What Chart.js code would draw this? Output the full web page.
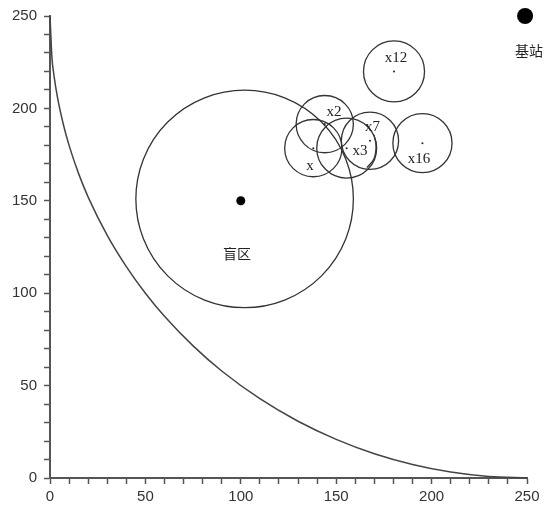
<!DOCTYPE html>
<html>
<head>
<meta charset="utf-8">
<script src="https://cdn.jsdelivr.net/npm/chart.js@4/dist/chart.umd.min.js"></script>
<style>
  html, body { margin: 0; padding: 0; background: #fff; }
  canvas { display: block; }
</style>
</head>
<body>
<canvas id="blindChart" width="544" height="509"></canvas>
<script>
// axis ticks
const majorTicks = [0, 50, 100, 150, 200, 250];

// coverage boundary
const curveX = [0, 1, 2, 4, 7, 10, 15, 20, 30, 40, 50, 60, 75, 90, 110, 130, 150, 170, 190, 210, 230, 250];
const curveY = [250, 227.7, 218.4, 205.5, 191.3, 180, 164.7, 152, 131.3, 114.4, 100, 87.5, 71.5, 57.9, 42.9, 30.7, 20.9, 13.1, 7.3, 3.2, 0.8, 0];

// short arc inside x7
const arcX = [169.8, 170.9, 169.8, 166.1];
const arcY = [185.7, 179.8, 172.8, 167.9];

// small circles (centre + radius, data units)
const nodeNames = ["x", "x2", "x3", "x7", "x12", "x16"];
const nodeX = [138, 144, 155.5, 167.7, 180.3, 195.2];
const nodeY = [178.5, 191.5, 178.5, 182.5, 220, 181.2];
const nodeR = [15, 15, 15.7, 15, 16, 15.5];
const labelX = [136.3, 148.8, 162.5, 169, 181.3, 193.4];
const labelY = [169, 198.2, 177.1, 189.7, 227.3, 172.6];

// blind zone
const blindCenter = [100, 150];
const blindCircle = [102, 151];
const blindR = 57;
const blindLabel = ["盲区", 98, 121.5];

// base station
const station = [249, 250];
const stationLabel = ["基站", 251, 231.5];

let chart;

function radiusPx(ctx, r) {
  const xs = ctx.chart.scales.x;
  if (!xs) return 0;
  return Math.abs(xs.getPixelForValue(r) - xs.getPixelForValue(0));
}

const textPlugin = {
  id: "texts",
  afterDatasetsDraw(c) {
    const g = c.ctx;
    const xs = c.scales.x, ys = c.scales.y;
    g.save();
    g.fillStyle = "#222";
    g.textAlign = "center";
    g.textBaseline = "middle";
    g.font = "15px 'Liberation Serif'";
    nodeNames.forEach((n, i) => {
      g.fillText(n, xs.getPixelForValue(labelX[i]), ys.getPixelForValue(labelY[i]));
    });
    g.font = "14px 'Noto Sans CJK SC'";
    g.fillText(blindLabel[0], xs.getPixelForValue(blindLabel[1]), ys.getPixelForValue(blindLabel[2]));
    g.fillText(stationLabel[0], xs.getPixelForValue(stationLabel[1]), ys.getPixelForValue(stationLabel[2]));
    g.restore();
  }
};

function makeChart() {
  const ctx = document.getElementById("blindChart").getContext("2d");
  chart = new Chart(ctx, {
    type: "scatter",
    data: {
      datasets: [
        {
          label: "boundary",
          data: curveX.map((x, i) => ({ x: x, y: curveY[i] })),
          showLine: true,
          borderColor: "#444",
          borderWidth: 1.5,
          pointRadius: 0,
          cubicInterpolationMode: "monotone",
          clip: false
        },
        {
          label: "arc",
          data: arcX.map((x, i) => ({ x: x, y: arcY[i] })),
          showLine: true,
          borderColor: "#333",
          borderWidth: 1.3,
          pointRadius: 0,
          tension: 0.4,
          clip: false
        },
        {
          label: "nodes",
          data: nodeX.map((x, i) => ({ x: x, y: nodeY[i], r: nodeR[i] })),
          pointRadius: c => radiusPx(c, c.raw ? c.raw.r : 0),
          pointHoverRadius: c => radiusPx(c, c.raw ? c.raw.r : 0),
          backgroundColor: "rgba(0,0,0,0)",
          borderColor: "#333",
          borderWidth: 1.3,
          clip: false
        },
        {
          label: "node centres",
          data: nodeX.map((x, i) => ({ x: x, y: nodeY[i] })),
          pointRadius: 1,
          backgroundColor: "#222",
          borderWidth: 0,
          clip: false
        },
        {
          label: "blind circle",
          data: [{ x: blindCircle[0], y: blindCircle[1], r: blindR }],
          pointRadius: c => radiusPx(c, blindR),
          pointHoverRadius: c => radiusPx(c, blindR),
          backgroundColor: "rgba(0,0,0,0)",
          borderColor: "#333",
          borderWidth: 1.3,
          clip: false
        },
        {
          label: "blind centre",
          data: [{ x: blindCenter[0], y: blindCenter[1] }],
          pointRadius: 4.5,
          backgroundColor: "#000",
          borderWidth: 0,
          clip: false
        },
        {
          label: "station",
          data: [{ x: station[0], y: station[1] }],
          pointRadius: 8,
          backgroundColor: "#000",
          borderWidth: 0,
          clip: false
        }
      ]
    },
    options: {
      responsive: false,
      animation: false,
      events: [],
      layout: { padding: { top: 15, right: 17, left: 0, bottom: 0 } },
      plugins: {
        legend: { display: false },
        tooltip: { enabled: false }
      },
      scales: {
        x: {
          type: "linear",
          min: 0,
          max: 250,
          afterFit: s => { s.height = 31; },
          border: { color: "#555", width: 2 },
          grid: { drawOnChartArea: false, tickLength: 6, tickColor: "#555", tickWidth: 1.5 },
          ticks: {
            stepSize: 10,
            autoSkip: false,
            maxRotation: 0,
            padding: 4,
            color: "#333",
            font: { family: "'Liberation Sans'", size: 15 },
            callback: v => majorTicks.includes(v) ? String(v) : ""
          }
        },
        y: {
          type: "linear",
          min: 0,
          max: 250,
          afterFit: s => { s.width = 50; },
          border: { color: "#555", width: 2 },
          grid: { drawOnChartArea: false, tickLength: 6, tickColor: "#555", tickWidth: 1.5 },
          ticks: {
            stepSize: 10,
            autoSkip: false,
            padding: 7,
            color: "#333",
            font: { family: "'Liberation Sans'", size: 15 },
            callback: v => majorTicks.includes(v) ? String(v) : ""
          }
        }
      }
    },
    plugins: [textPlugin]
  });
}

makeChart();
</script>
</body>
</html>
